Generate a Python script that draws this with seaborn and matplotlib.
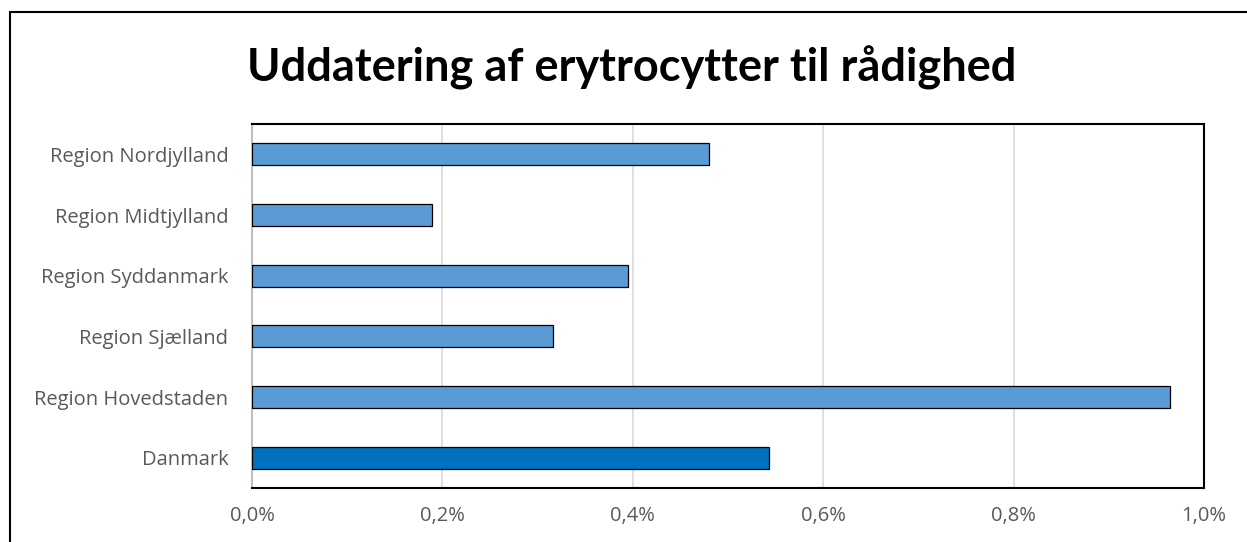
import matplotlib
matplotlib.use("Agg")
import matplotlib.pyplot as plt
import seaborn as sns
import pandas as pd
from matplotlib.patches import Rectangle
from matplotlib.ticker import FuncFormatter

## dados
regioner = ["Region Nordjylland", "Region Midtjylland", "Region Syddanmark",
            "Region Sjælland", "Region Hovedstaden", "Danmark"]
andel = [0.480, 0.189, 0.395, 0.316, 0.964, 0.543]
farver = ["#5B9BD5", "#5B9BD5", "#5B9BD5", "#5B9BD5", "#5B9BD5", "#0070C0"]

df = pd.DataFrame({"region": regioner, "andel": andel})

sns.set_style("white")
plt.rcParams["font.family"] = ["Open Sans", "DejaVu Sans"]

fig = plt.figure(figsize=(12.47, 5.42), dpi=100)
ax = fig.add_axes([252 / 1247, 1 - 488 / 542, (1204 - 252) / 1247, (488 - 124) / 542])

sns.barplot(
    data=df, y="region", x="andel", hue="region", palette=farver,
    legend=False, width=0.36, edgecolor="black", linewidth=0.9,
    saturation=1, order=regioner, ax=ax, zorder=3
)

ax.set_xlim(0, 1.0)
ax.set_xticks([0, 0.2, 0.4, 0.6, 0.8, 1.0])
ax.xaxis.set_major_formatter(FuncFormatter(lambda v, p: f"{v:.1f}%".replace(".", ",")))
ax.grid(axis="x", color="#D9D9D9", linewidth=1.2, zorder=0)
ax.set_xlabel("")
ax.set_ylabel("")
ax.tick_params(axis="both", colors="#595959", labelsize=14.5, length=0)
ax.tick_params(axis="x", pad=13)
ax.tick_params(axis="y", pad=17)

for side in ["top", "right", "bottom"]:
    ax.spines[side].set_color("black")
    ax.spines[side].set_linewidth(1.5)
ax.spines["left"].set_color("#BFBFBF")
ax.spines["left"].set_linewidth(1.5)

## moldura externa
fig.patches.append(Rectangle((10 / 1247, -0.05), 1.2, 1 - 12 / 542 + 0.05,
                             transform=fig.transFigure, fill=False,
                             edgecolor="black", linewidth=1.5))

fig.text(632 / 1247, 1 - 68 / 542, "Uddatering af erytrocytter til rådighed",
         ha="center", va="center", fontsize=32.5, fontweight="bold",
         family=["Lato", "DejaVu Sans"], color="black")

plt.savefig("out.png", dpi=100)
